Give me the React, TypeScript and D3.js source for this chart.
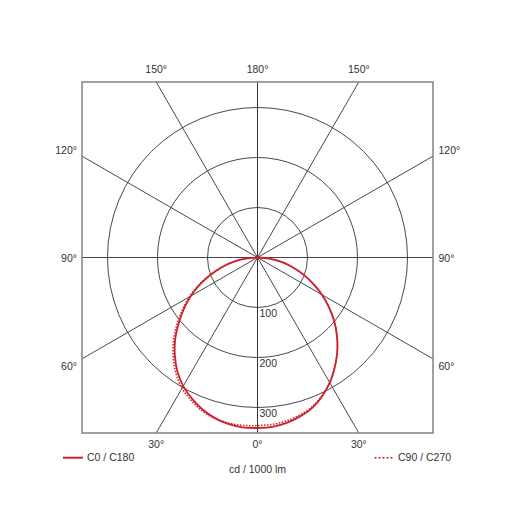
import React from "react";
import * as d3 from "d3";

// Gamma angles (degrees from nadir)
const gammaAngles = [0, 5, 10, 15, 20, 25, 30, 35, 40, 45, 50, 55, 60, 65, 70, 75, 80, 85, 90];
// Luminous intensity, cd / 1000 lm
const c0Values = [341, 340, 336, 329, 320, 306, 289, 269, 248, 225, 201, 175, 149, 122, 96, 71, 47, 24, 0];
const c180Values = [341, 341, 338, 332, 323, 311, 297, 279, 257, 233, 206, 180, 154, 127, 99, 73, 48, 24, 0];
const c90Values = [336, 335, 332, 326, 318, 305, 289, 269, 248, 225, 201, 175, 149, 122, 96, 71, 47, 24, 0];
const c270Values = [336, 337, 336, 333, 326, 315, 302, 284, 262, 238, 211, 184, 157, 129, 100, 73, 48, 24, 0];

const ringValues = [100, 200, 300];
const spokeAngles = [0, 30, 60, 90, 120, 150, 180];
const topLabels = [150, 180];
const sideLabels = [120, 90, 60];
const bottomLabels = [30, 0];
const legendLeft = "C0 / C180";
const legendRight = "C90 / C270";
const unitLabel = "cd / 1000 lm";

const W = 515;
const H = 515;
const cx = 257.5;
const cy = 257.5;
const half = 175.5;
const RED = "#cf1f2b";
const FONT = "'Liberation Sans', Arial, sans-serif";

const r = d3.scaleLinear().domain([0, 351]).range([0, half]);

function toXY(deg: number, val: number, side: number): [number, number] {
  const a = (deg * Math.PI) / 180;
  return [cx + side * r(val) * Math.sin(a), cy + r(val) * Math.cos(a)];
}

function curvePoints(left: number[], right: number[]): [number, number][] {
  const pts: [number, number][] = [];
  for (let i = gammaAngles.length - 1; i >= 1; i--) pts.push(toXY(gammaAngles[i], left[i], -1));
  for (let i = 0; i < gammaAngles.length; i++) pts.push(toXY(gammaAngles[i], right[i], 1));
  return pts;
}

function edgePoint(deg: number, side: number): [number, number] {
  const a = (deg * Math.PI) / 180;
  const dx = side * Math.sin(a);
  const dy = Math.cos(a);
  const t = half / Math.max(Math.abs(dx), Math.abs(dy));
  return [cx + dx * t, cy + dy * t];
}

export default function App() {
  const line = d3.line<[number, number]>().curve(d3.curveCatmullRom.alpha(0.5));
  const solidPath = line(curvePoints(c180Values, c0Values)) || "";
  const dottedPath = line(curvePoints(c270Values, c90Values)) || "";

  const textStyle = { fontFamily: FONT, fontSize: 10.5, fill: "#333" } as const;

  return (
    <svg width={W} height={H} style={{ position: "absolute", left: 0, top: 0 }}>
      <rect x={0} y={0} width={W} height={H} fill="#fff" />
      {/* rings */}
      {ringValues.map((v) => (
        <circle key={v} cx={cx} cy={cy} r={r(v)} fill="none" stroke="#333" strokeWidth={0.9} />
      ))}
      {/* spokes */}
      {spokeAngles.map((a) =>
        [-1, 1].map((s) => {
          const [x2, y2] = edgePoint(a, s);
          return <line key={`${a}-${s}`} x1={cx} y1={cy} x2={x2} y2={y2} stroke="#333" strokeWidth={0.9} />;
        })
      )}
      {/* frame */}
      <rect x={cx - half} y={cy - half} width={half * 2} height={half * 2} fill="none" stroke="#8a8a8a" strokeWidth={1.6} />
      {/* ring labels */}
      {ringValues.map((v) => (
        <text key={v} x={cx + 2} y={cy + r(v) + 6.5} style={textStyle} dominantBaseline="middle">
          {v}
        </text>
      ))}
      {/* curves */}
      <path d={solidPath} fill="none" stroke={RED} strokeWidth={1.8} />
      <path d={dottedPath} fill="none" stroke={RED} strokeWidth={1.5} strokeDasharray="1.5,1.5" />
      {/* angle labels */}
      {topLabels.map((a) =>
        (a === 180 ? [1] : [-1, 1]).map((s) => {
          const [x] = edgePoint(a, s);
          return (
            <text key={`t${a}${s}`} x={x} y={cy - half - 12} textAnchor="middle" dominantBaseline="middle" style={textStyle}>
              {a}°
            </text>
          );
        })
      )}
      {bottomLabels.map((a) =>
        (a === 0 ? [1] : [-1, 1]).map((s) => {
          const [x] = edgePoint(a, s);
          return (
            <text key={`b${a}${s}`} x={x} y={cy + half + 12} textAnchor="middle" dominantBaseline="middle" style={textStyle}>
              {a}°
            </text>
          );
        })
      )}
      {sideLabels.map((a) =>
        [-1, 1].map((s) => {
          const [x, y] = edgePoint(a, s);
          const dy = Math.cos((a * Math.PI) / 180) * 13 + 2;
          return (
            <text
              key={`s${a}${s}`}
              x={s < 0 ? x - 5 : x + 5.5}
              y={y + dy}
              textAnchor={s < 0 ? "end" : "start"}
              dominantBaseline="middle"
              style={textStyle}
            >
              {a}°
            </text>
          );
        })
      )}
      {/* legend */}
      <line x1={63} x2={83} y1={457.7} y2={457.7} stroke={RED} strokeWidth={2} />
      <text x={87} y={458} dominantBaseline="middle" style={textStyle}>
        {legendLeft}
      </text>
      <line x1={374.5} x2={393.5} y1={457.7} y2={457.7} stroke={RED} strokeWidth={1.6} strokeDasharray="2,2" />
      <text x={398} y={458} dominantBaseline="middle" style={textStyle}>
        {legendRight}
      </text>
      <text x={cx} y={470} textAnchor="middle" dominantBaseline="middle" style={textStyle}>
        {unitLabel}
      </text>
    </svg>
  );
}
